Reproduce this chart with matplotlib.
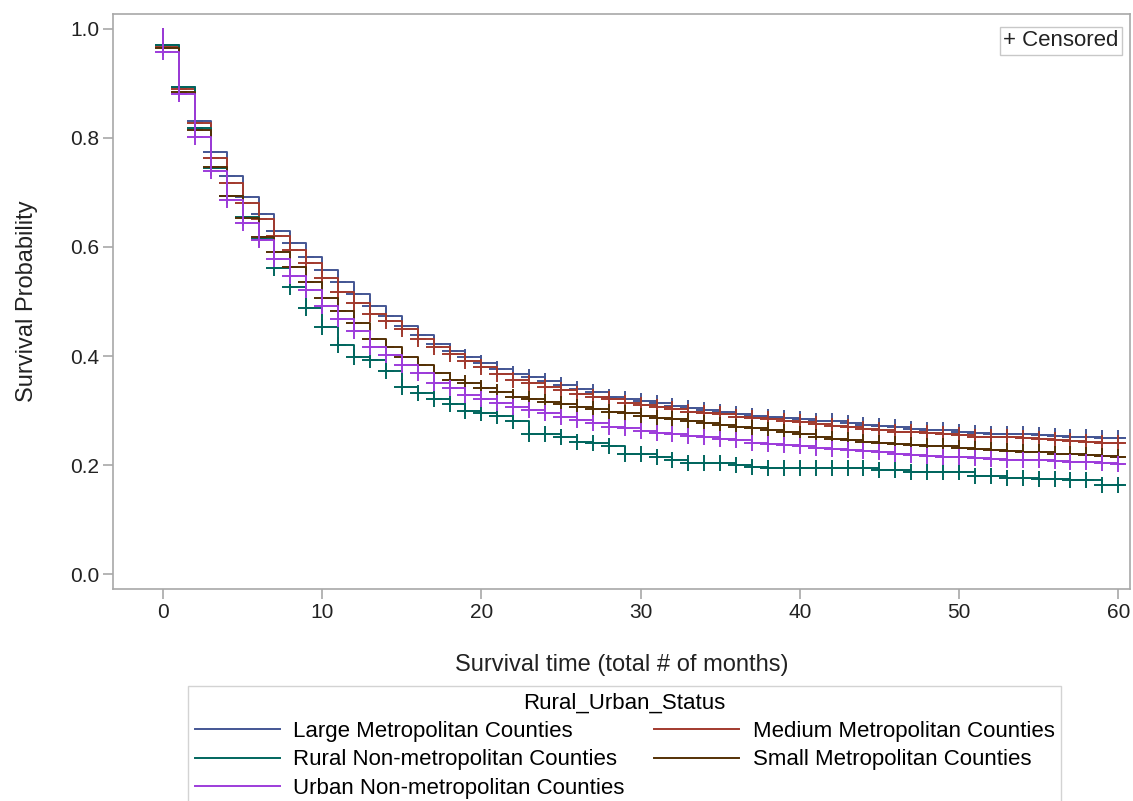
import matplotlib
matplotlib.use("Agg")
import matplotlib.pyplot as plt
import numpy as np
from matplotlib.lines import Line2D

# ======= datos =======
meses = list(range(0, 61))
t_final = 60.3

grupos = [
    "Large Metropolitan Counties",
    "Medium Metropolitan Counties",
    "Rural Non-metropolitan Counties",
    "Small Metropolitan Counties",
    "Urban Non-metropolitan Counties",
]
colores = ["#445694", "#A23A2E", "#01665E", "#543005", "#9D3CDB"]

s_large = [0.970, 0.893, 0.831, 0.774, 0.730, 0.692, 0.661, 0.630, 0.608, 0.582,
           0.558, 0.536, 0.514, 0.492, 0.473, 0.455, 0.439, 0.422, 0.410, 0.399,
           0.388, 0.377, 0.367, 0.361, 0.355, 0.347, 0.340, 0.334, 0.325, 0.321,
           0.317, 0.313, 0.308, 0.304, 0.301, 0.298, 0.294, 0.290, 0.288, 0.286,
           0.284, 0.281, 0.280, 0.277, 0.273, 0.272, 0.269, 0.266, 0.264, 0.264,
           0.261, 0.259, 0.257, 0.257, 0.256, 0.255, 0.253, 0.252, 0.251, 0.249,
           0.249]
s_medium = [0.967, 0.889, 0.828, 0.763, 0.717, 0.681, 0.651, 0.620, 0.594, 0.571,
            0.544, 0.517, 0.498, 0.477, 0.465, 0.449, 0.431, 0.417, 0.404, 0.390,
            0.380, 0.367, 0.356, 0.351, 0.343, 0.338, 0.330, 0.325, 0.321, 0.313,
            0.310, 0.306, 0.302, 0.298, 0.296, 0.293, 0.289, 0.286, 0.284, 0.281,
            0.278, 0.275, 0.271, 0.269, 0.266, 0.264, 0.261, 0.260, 0.258, 0.257,
            0.255, 0.252, 0.251, 0.251, 0.249, 0.247, 0.246, 0.244, 0.243, 0.240,
            0.240]
s_rural = [0.971, 0.894, 0.818, 0.745, 0.694, 0.655, 0.615, 0.561, 0.527, 0.488,
           0.453, 0.420, 0.399, 0.393, 0.373, 0.344, 0.332, 0.321, 0.312, 0.300,
           0.296, 0.290, 0.280, 0.256, 0.256, 0.252, 0.243, 0.240, 0.234, 0.220,
           0.220, 0.215, 0.209, 0.204, 0.203, 0.203, 0.200, 0.197, 0.195, 0.195,
           0.195, 0.195, 0.194, 0.194, 0.194, 0.191, 0.190, 0.188, 0.188, 0.188,
           0.188, 0.180, 0.180, 0.177, 0.177, 0.174, 0.174, 0.172, 0.172, 0.163,
           0.163]
s_small = [0.965, 0.884, 0.815, 0.747, 0.694, 0.653, 0.618, 0.591, 0.564, 0.536,
           0.507, 0.483, 0.460, 0.432, 0.416, 0.399, 0.383, 0.369, 0.356, 0.350,
           0.341, 0.334, 0.325, 0.321, 0.316, 0.312, 0.307, 0.303, 0.298, 0.295,
           0.290, 0.287, 0.284, 0.280, 0.277, 0.273, 0.270, 0.267, 0.264, 0.261,
           0.256, 0.252, 0.248, 0.245, 0.243, 0.240, 0.239, 0.237, 0.235, 0.234,
           0.231, 0.229, 0.228, 0.226, 0.224, 0.223, 0.221, 0.220, 0.218, 0.216,
           0.215]
s_urban = [0.958, 0.881, 0.802, 0.739, 0.686, 0.644, 0.613, 0.578, 0.547, 0.521,
           0.491, 0.467, 0.445, 0.417, 0.402, 0.383, 0.368, 0.351, 0.341, 0.328,
           0.321, 0.313, 0.307, 0.301, 0.295, 0.289, 0.283, 0.277, 0.270, 0.267,
           0.263, 0.259, 0.257, 0.253, 0.251, 0.247, 0.245, 0.241, 0.239, 0.237,
           0.235, 0.231, 0.230, 0.227, 0.225, 0.223, 0.220, 0.219, 0.217, 0.215,
           0.215, 0.212, 0.211, 0.210, 0.209, 0.209, 0.208, 0.206, 0.206, 0.203,
           0.202]

series = [s_large, s_medium, s_rural, s_small, s_urban]

# ======= figura =======
plt.rcParams["font.family"] = ["Liberation Sans", "DejaVu Sans"]
W, H = 1133, 801
fig = plt.figure(figsize=(W / 100, H / 100), dpi=100)
ax = fig.add_axes([113 / W, 1 - 589 / H, (1130 - 113) / W, (589 - 14) / H])

handles = []
for nombre, col, s in zip(grupos, colores, series):
    x = [0] + meses + [t_final]
    y = [1.0] + s + [s[-1]]
    ax.step(x, y, where="post", color=col, lw=1.4)
    ax.plot(meses, s, linestyle="none", marker="+", markersize=11,
            markeredgewidth=1.4, color=col)
    handles.append(Line2D([], [], color=col, lw=1.4, label=nombre))

ax.set_xlim(-3.14, 60.74)
ax.set_ylim(-0.0275, 1.0275)
ax.set_xticks(range(0, 61, 10))
ax.set_yticks(np.arange(0, 1.01, 0.2))
ax.yaxis.set_major_formatter(matplotlib.ticker.FormatStrFormatter("%.1f"))

gris = "#a8a8a8"
for sp in ax.spines.values():
    sp.set_color(gris)
    sp.set_linewidth(1.2)
ax.tick_params(axis="both", colors=gris, labelcolor="#222222", labelsize=15,
               length=7, width=1.2, pad=3)

ax.set_xlabel("Survival time (total # of months)", fontsize=17, color="#222222", labelpad=23)
ax.set_ylabel("Survival Probability", fontsize=17, color="#222222", labelpad=23)

ax.text(0.9889, 0.9716, "+ Censored", transform=ax.transAxes, ha="right", va="top",
        fontsize=16, color="#222222",
        bbox=dict(boxstyle="square,pad=0.15", facecolor="white", edgecolor="#c8c8c8"))

# orden por columnas para que quede por filas como en SAS
orden = [0, 2, 4, 1, 3]
leg = fig.legend([handles[i] for i in orden], [grupos[i] for i in orden],
                 ncol=2, title="Rural_Urban_Status", loc="upper center",
                 bbox_to_anchor=(624.5 / W, 1 - 686 / H), fontsize=16,
                 title_fontsize=16, frameon=True, fancybox=False,
                 edgecolor="#c8c8c8", handlelength=3.85, handletextpad=0.6,
                 columnspacing=1.3, labelspacing=0.33, borderpad=0.3,
                 borderaxespad=0)
leg.get_frame().set_linewidth(1.0)

fig.savefig("out.png", dpi=100)
plt.close(fig)
print("out.png is saved")
